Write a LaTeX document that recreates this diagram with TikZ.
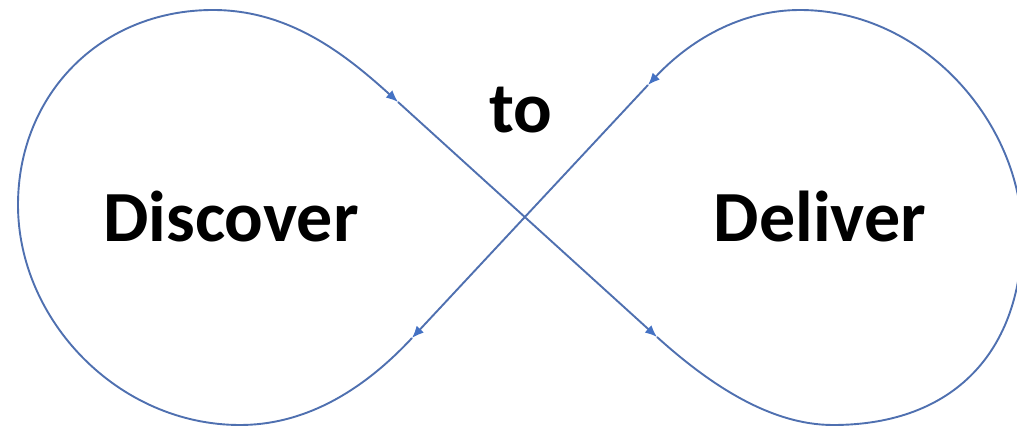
\documentclass[tikz,border=0pt]{standalone}
\usepackage{fontspec}
\setmainfont{Carlito}
\usetikzlibrary{arrows.meta}
\definecolor{loopblue}{HTML}{4F70B0}
\definecolor{tipblue}{HTML}{4472C4}

\begin{document}
\begin{tikzpicture}[x=1pt,y=-1pt,
  loop/.style={draw=loopblue,line width=1.9pt},
  flow/.style={-{Latex[length=12pt,width=10pt,color=tipblue]}},
  word/.style={font=\fontsize{72}{80}\selectfont\bfseries,anchor=base}]
  \useasboundingbox (0,0) rectangle (1017,430);
  \clip (0,0) rectangle (1017,430);
  % 交点の手前と先にある矢印の位置
  \coordinate (TL) at (398,102);
  \coordinate (BR) at (657,337);
  \coordinate (TR) at (648,85);
  \coordinate (BL) at (412,338);
  \draw[loop,flow] (TL) -- (BR);
  \draw[loop,flow] (BR) .. controls (709,384) and (770,425) .. (833,425)
    .. controls (955,425) and (1022,350) .. (1022,235)
    .. controls (1022,125) and (925,10) .. (800,10)
    .. controls (740,10) and (689,41) .. (TR);
  \draw[loop,flow] (TR) -- (BL);
  \draw[loop,flow] (BL) .. controls (358,396) and (300,425) .. (240,425)
    .. controls (118,425) and (18,320) .. (18,205)
    .. controls (18,95) and (100,10) .. (213,10)
    .. controls (290,10) and (346,55) .. (TL);
  \node[word] (disc) at (231,242) {Discover};
  \node[word] (deli) at (820,242) {Deliver};
  \node[word] (to) at (521,133) {to};
\end{tikzpicture}
\end{document}
